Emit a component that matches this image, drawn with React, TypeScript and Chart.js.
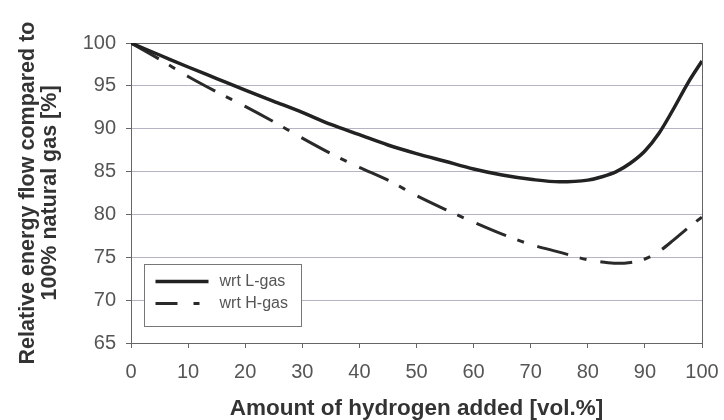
import React, { useEffect, useRef } from 'react';
import { Chart, registerables } from 'chart.js';

Chart.register(...registerables);

// ---- data ----
const hydrogenPct = [0, 5, 10, 15, 20, 25, 30, 35, 40, 45, 50, 55, 60, 65, 70, 75, 80, 82.5, 85, 87.5, 90, 92.5, 95, 97.5, 100];
const lGasFlow = [100, 98.6, 97.2, 95.85, 94.5, 93.2, 91.9, 90.5, 89.3, 88.1, 87.1, 86.2, 85.3, 84.6, 84.1, 83.8, 84.0, 84.4, 85.0, 86.0, 87.4, 89.5, 92.3, 95.3, 97.9];
const hGasFlow = [100, 98.1, 96.1, 94.3, 92.6, 90.8, 88.9, 87.1, 85.5, 84.0, 82.2, 80.6, 79.1, 77.7, 76.5, 75.6, 74.7, 74.45, 74.3, 74.4, 74.8, 75.7, 77.0, 78.4, 79.7];
const seriesLabels = ['wrt L-gas', 'wrt H-gas'];
const xTitle = 'Amount of hydrogen added [vol.%]';
const yTitle = ['Relative energy flow compared to', '100% natural gas [%]'];
const X_MIN = 0, X_MAX = 100, X_STEP = 10;
const Y_MIN = 65, Y_MAX = 100, Y_STEP = 5;

const FONT = "'Liberation Sans', Arial, Helvetica, sans-serif";
const H_DASH = [32, 12, 7, 14];

const frame = {
  id: 'frame',
  beforeDatasetsDraw(chart: any) {
    const { ctx, chartArea: a } = chart;
    ctx.save();
    ctx.strokeStyle = '#666';
    ctx.lineWidth = 1;
    ctx.strokeRect(Math.round(a.left) + 0.5, Math.round(a.top) + 0.5, Math.round(a.right - a.left), Math.round(a.bottom - a.top));
    ctx.restore();
  },
};

const insideLegend = {
  id: 'insideLegend',
  afterDraw(chart: any) {
    const { ctx, chartArea: a } = chart;
    const bx = Math.round(a.left + 13) + 0.5;
    const by = Math.round(a.top + 221) + 0.5;
    const bw = 157, bh = 62;
    ctx.save();
    ctx.fillStyle = '#fff';
    ctx.fillRect(bx, by, bw, bh);
    ctx.strokeStyle = '#777';
    ctx.lineWidth = 1;
    ctx.strokeRect(bx, by, bw, bh);
    const rows = [17, 39];
    chart.data.datasets.forEach((ds: any, i: number) => {
      const y = by + rows[i];
      ctx.beginPath();
      ctx.strokeStyle = ds.borderColor;
      ctx.lineWidth = ds.borderWidth;
      ctx.lineCap = 'butt';
      ctx.setLineDash(i === 0 ? [] : [22, 16, 6, 40]);
      ctx.moveTo(bx + 11, y);
      ctx.lineTo(bx + 64, y);
      ctx.stroke();
      ctx.setLineDash([]);
      ctx.fillStyle = '#555';
      ctx.font = `16px ${FONT}`;
      ctx.textAlign = 'left';
      ctx.textBaseline = 'middle';
      ctx.fillText(ds.label, bx + 75, y);
    });
    ctx.restore();
  },
};

export default function App() {
  const ref = useRef<HTMLCanvasElement>(null);
  useEffect(() => {
    if (!ref.current) return;
    const chart = new Chart(ref.current, {
      type: 'line',
      data: {
        datasets: [
          {
            label: seriesLabels[0],
            data: hydrogenPct.map((x, i) => ({ x, y: lGasFlow[i] })),
            borderColor: '#222',
            borderWidth: 3.5,
            pointRadius: 0,
            cubicInterpolationMode: 'monotone',
            fill: false,
          },
          {
            label: seriesLabels[1],
            data: hydrogenPct.map((x, i) => ({ x, y: hGasFlow[i] })),
            borderColor: '#2a2a2a',
            borderWidth: 3,
            borderDash: H_DASH,
            pointRadius: 0,
            cubicInterpolationMode: 'monotone',
            fill: false,
          },
        ],
      },
      options: {
        responsive: false,
        animation: false,
        layout: { padding: { top: 43, right: 22, left: 0, bottom: 0 } },
        plugins: { legend: { display: false }, tooltip: { enabled: false } },
        scales: {
          x: {
            type: 'linear',
            min: X_MIN,
            max: X_MAX,
            afterFit: (s: any) => { s.height = 77; s.paddingRight = 0; s.paddingLeft = 0; },
            ticks: {
              stepSize: X_STEP,
              font: { family: FONT, size: 20 },
              color: '#555',
              padding: 12,
              maxRotation: 0,
            },
            grid: {
              display: true,
              drawOnChartArea: false,
              drawTicks: true,
              tickLength: 5,
              tickColor: '#666',
            },
            border: { display: true, color: '#666' },
            title: {
              display: true,
              text: xTitle,
              font: { family: FONT, size: 22.5, weight: 'bold', lineHeight: 1.0 },
              color: '#333',
              padding: { top: 0, bottom: 0 },
            },
          },
          y: {
            type: 'linear',
            min: Y_MIN,
            max: Y_MAX,
            afterFit: (s: any) => { s.width = 131; s.paddingTop = 0; s.paddingBottom = 0; },
            ticks: {
              stepSize: Y_STEP,
              font: { family: FONT, size: 20 },
              color: '#555',
              padding: 10,
            },
            grid: {
              color: (c: any) => (c.tick && c.tick.value === Y_MAX ? '#555' : '#b4b4c4'),
              tickColor: '#666',
              tickLength: 5,
            },
            border: { display: true, color: '#777' },
            title: {
              display: true,
              text: yTitle,
              font: { family: FONT, size: 21.5, weight: 'bold', lineHeight: 1.03 },
              color: '#333',
              padding: { top: 17, bottom: 0 },
            },
          },
        },
      },
      plugins: [frame, insideLegend],
    } as any);
    return () => chart.destroy();
  }, []);
  return (
    <div style={{ position: 'fixed', left: 0, top: 0, width: 724, height: 420, background: '#fff' }}>
      <canvas ref={ref} width={724} height={420} />
    </div>
  );
}
